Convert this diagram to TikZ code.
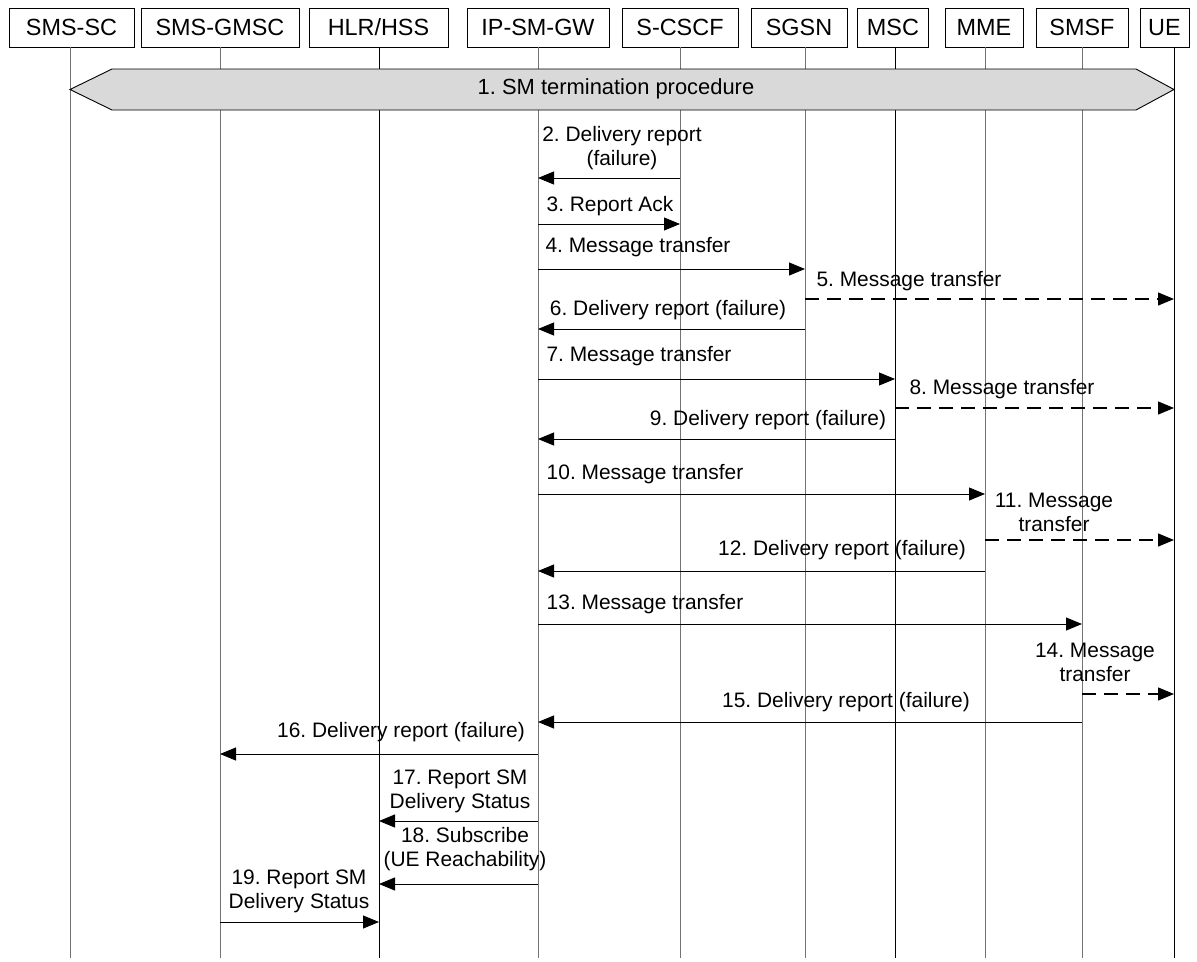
\documentclass[tikz,border=0pt]{standalone}
\usepackage{fontspec}
\setmainfont{Liberation Sans}
\frenchspacing
\usetikzlibrary{arrows.meta,calc}
\begin{document}
\begin{tikzpicture}[x=1bp,y=-1bp,
  ent/.style={draw, line width=0.9bp, minimum height=39bp, inner sep=0pt, font=\fontsize{23.5}{26}\selectfont},
  life/.style={line width=1bp, draw=black!55},
  lifek/.style={line width=1bp, draw=black},
  msg/.style={line width=0.9bp, -{Triangle[length=16bp,width=13bp]}},
  dmsg/.style={msg, line width=1.2bp, dash pattern=on 14bp off 8bp},
  lbl/.style={inner sep=0pt, align=center, font=\fontsize{21}{24}\selectfont},
  proc/.style={draw, line width=0.9bp, fill=black!15}
]
\useasboundingbox (0,0) rectangle (1197,962);
% entity boxes
\node[ent, minimum width=125bp] (smssc)  at (71.5,27.5) {SMS-SC};
\node[ent, minimum width=158bp] (gmsc)   at (220,27.5) {SMS-GMSC};
\node[ent, minimum width=139bp] (hlr)    at (378.5,27.5) {HLR/HSS};
\node[ent, minimum width=142bp] (ipsm)   at (538,27.5) {IP-SM-GW};
\node[ent, minimum width=116bp] (scscf)  at (680,27.5) {S-CSCF};
\node[ent, minimum width=96bp]  (sgsn)   at (799,27.5) {SGSN};
\node[ent, minimum width=71bp]  (msc)    at (893,27.5) {MSC};
\node[ent, minimum width=78bp]  (mme)    at (984,27.5) {MME};
\node[ent, minimum width=92bp]  (smsf)   at (1082,27.5) {SMSF};
\node[ent, minimum width=49bp]  (ue)     at (1164.5,27.5) {UE};
% lifeline tops
\coordinate (Lsmssc) at (70,47);
\coordinate (Lgmsc)  at (220,47);
\coordinate (Lhlr)   at (379,47);
\coordinate (Lipsm)  at (538,47);
\coordinate (Lscscf) at (680,47);
\coordinate (Lsgsn)  at (805,47);
\coordinate (Lmsc)   at (895,47);
\coordinate (Lmme)   at (985,47);
\coordinate (Lsmsf)  at (1082,47);
\coordinate (Lue)    at (1174,47);
\coordinate (bot) at (0,958);
\foreach \l in {Lsmssc,Lgmsc,Lipsm,Lscscf,Lsgsn,Lmme,Lsmsf}{\draw[life] (\l) -- (\l |- bot);}
\foreach \l in {Lhlr,Lmsc,Lue}{\draw[lifek] (\l) -- (\l |- bot);}
% 1. procedure
\draw[proc] (Lsmssc |- 0,89.5) -- ++(42,-20.5) -- (1136,69) -- (Lue |- 0,89.5) -- (1136,110) -- ($(Lsmssc |- 0,110)+(42,0)$) -- cycle;
\node[lbl, font=\fontsize{22}{24}\selectfont] (p1) at (616,89) {1. SM termination procedure};
% messages
\node[lbl] (t2) at (622,148) {2. Delivery report\\(failure)};
\draw[msg] (Lscscf |- 0,178) -- (Lipsm |- 0,178);
\node[lbl] (t3) at (610,206) {3. Report Ack};
\draw[msg] (Lipsm |- 0,224) -- (Lscscf |- 0,224);
\node[lbl] (t4) at (638,247) {4. Message transfer};
\draw[msg] (Lipsm |- 0,269) -- (Lsgsn |- 0,269);
\node[lbl] (t5) at (909,281) {5. Message transfer};
\draw[dmsg] (Lsgsn |- 0,299) -- (Lue |- 0,299);
\node[lbl] (t6) at (668,310) {6. Delivery report (failure)};
\draw[msg] (Lsgsn |- 0,329) -- (Lipsm |- 0,329);
\node[lbl] (t7) at (639,356) {7. Message transfer};
\draw[msg] (Lipsm |- 0,379) -- (Lmsc |- 0,379);
\node[lbl] (t8) at (1002,389) {8. Message transfer};
\draw[dmsg] (Lmsc |- 0,408) -- (Lue |- 0,408);
\node[lbl] (t9) at (768,420) {9. Delivery report (failure)};
\draw[msg] (Lmsc |- 0,439) -- (Lipsm |- 0,439);
\node[lbl] (t10) at (645,474) {10. Message transfer};
\draw[msg] (Lipsm |- 0,494) -- (Lmme |- 0,494);
\node[lbl] (t11) at (1054,512) {11. Message\\transfer};
\draw[dmsg] (Lmme |- 0,540) -- (Lue |- 0,540);
\node[lbl] (t12) at (842,550) {12. Delivery report (failure)};
\draw[msg] (Lmme |- 0,571) -- (Lipsm |- 0,571);
\node[lbl] (t13) at (645,604) {13. Message transfer};
\draw[msg] (Lipsm |- 0,624) -- (Lsmsf |- 0,624);
\node[lbl] (t14) at (1095,662) {14. Message\\transfer};
\draw[dmsg] (Lsmsf |- 0,694) -- (Lue |- 0,694);
\node[lbl] (t15) at (846,702) {15. Delivery report (failure)};
\draw[msg] (Lsmsf |- 0,722) -- (Lipsm |- 0,722);
\node[lbl] (t16) at (401,732) {16. Delivery report (failure)};
\draw[msg] (Lipsm |- 0,754) -- (Lgmsc |- 0,754);
\node[lbl] (t17) at (460,791) {17. Report SM\\Delivery Status};
\draw[msg] (Lipsm |- 0,821) -- (Lhlr |- 0,821);
\node[lbl] (t18) at (465,849) {18. Subscribe\\(UE Reachability)};
\draw[msg] (Lipsm |- 0,884) -- (Lhlr |- 0,884);
\node[lbl] (t19) at (299,891) {19. Report SM\\Delivery Status};
\draw[msg] (Lgmsc |- 0,922) -- (Lhlr |- 0,922);
\end{tikzpicture}
\end{document}
